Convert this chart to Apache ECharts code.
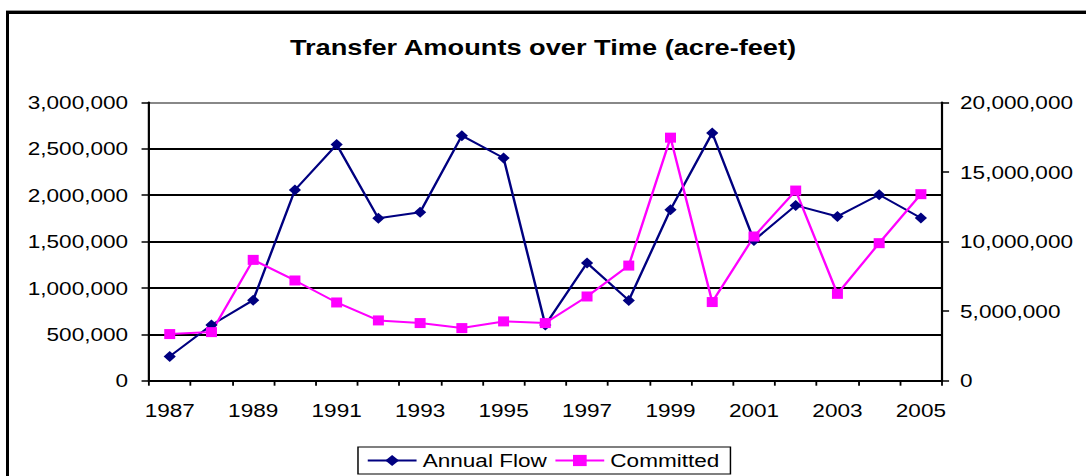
<!DOCTYPE html>
<html>
<head>
<meta charset="utf-8">
<script src="https://cdn.jsdelivr.net/npm/echarts@6/dist/echarts.min.js"></script>
<style>
html,body{margin:0;padding:0;background:#fff;overflow:hidden;}
#wrap{position:absolute;left:0;top:0;width:1086px;height:476px;overflow:hidden;background:#fff;}
#chart{position:absolute;left:0;top:0;width:890px;height:476px;transform:scaleX(1.22022);transform-origin:0 0;}
#frame{position:absolute;left:6px;top:11px;width:1200px;height:600px;border-top:3px solid #000;border-left:3px solid #000;box-sizing:border-box;box-shadow:0 -1px 0 #999;z-index:5;pointer-events:none;}
</style>
</head>
<body>
<div id="wrap">
  <div id="chart"></div>
  <div id="frame"></div>
</div>
<script>
// ---- data ----
const years = ['1987','1988','1989','1990','1991','1992','1993','1994','1995','1996',
               '1997','1998','1999','2000','2001','2002','2003','2004','2005'];
const annualFlow = [262000, 600000, 868000, 2055000, 2545000, 1750000, 1815000, 2640000, 2400000, 600000,
                    1268000, 865000, 1843000, 2669000, 1512000, 1889000, 1770000, 2004000, 1753000];
const committed = [3350000, 3490000, 8680000, 7200000, 5620000, 4330000, 4140000, 3780000, 4260000, 4140000,
                   6050000, 8270000, 17460000, 5650000, 10360000, 13660000, 6240000, 9880000, 13400000];
const leftTicks = [0, 500000, 1000000, 1500000, 2000000, 2500000, 3000000];
const rightTicks = [0, 5000000, 10000000, 15000000, 20000000];
const seriesNames = ['Annual Flow', 'Committed'];
const titleText = 'Transfer Amounts over Time (acre-feet)';

const FONT = 'Liberation Sans, Arial, sans-serif';
const fmt = v => Number(v).toLocaleString('en-US');

const chart = echarts.init(document.getElementById('chart'), null, {renderer: 'svg'});
chart.setOption({
  animation: false,
  backgroundColor: 'transparent',
  title: {
    text: titleText,
    left: 'center',
    top: 36,
    padding: 0,
    textStyle: {fontFamily: FONT, fontWeight: 'bold', fontSize: 22.3, color: '#000'}
  },
  grid: {left: 122, right: 118.2, top: 102.3, bottom: 95.3},
  legend: {
    data: seriesNames,
    left: 'center',
    bottom: 2,
    backgroundColor: '#fff',
    borderColor: '#000',
    borderWidth: 1.2,
    borderRadius: 0,
    padding: [4, 9, 4, 7],
    itemWidth: 40,
    itemHeight: 14,
    itemGap: 6,
    textStyle: {fontFamily: FONT, fontSize: 18.5, color: '#000'}
  },
  xAxis: {
    type: 'category',
    data: years,
    boundaryGap: true,
    axisLine: {show: true, lineStyle: {color: '#000', width: 2}},
    axisTick: {show: true, interval: 0, length: 5, lineStyle: {color: '#000', width: 1.5}},
    axisLabel: {interval: 1, margin: 20, fontFamily: FONT, fontSize: 18.5, color: '#000'},
    splitLine: {show: false}
  },
  yAxis: [{
    type: 'value',
    position: 'left',
    min: leftTicks[0],
    max: leftTicks[leftTicks.length - 1],
    interval: leftTicks[1] - leftTicks[0],
    axisLine: {show: true, lineStyle: {color: '#000', width: 1.8}},
    axisTick: {show: true, length: 6, lineStyle: {color: '#000', width: 1.5}},
    axisLabel: {margin: 17, fontFamily: FONT, fontSize: 18.5, color: '#000', formatter: fmt},
    splitLine: {show: true, lineStyle: {width: 2, color: ['#000','#000','#000','#000','#000','#000','#888']}}
  }, {
    type: 'value',
    position: 'right',
    min: rightTicks[0],
    max: rightTicks[rightTicks.length - 1],
    interval: rightTicks[1] - rightTicks[0],
    axisLine: {show: true, lineStyle: {color: '#000', width: 1.8}},
    axisTick: {show: true, length: 6, lineStyle: {color: '#000', width: 1.5}},
    axisLabel: {margin: 15, fontFamily: FONT, fontSize: 18.5, color: '#000', formatter: fmt},
    splitLine: {show: false}
  }],
  series: [{
    name: seriesNames[0],
    type: 'line',
    yAxisIndex: 0,
    data: annualFlow,
    symbol: 'diamond',
    symbolSize: [10, 11],
    lineStyle: {color: '#000080', width: 2},
    itemStyle: {color: '#000080'}
  }, {
    name: seriesNames[1],
    type: 'line',
    yAxisIndex: 1,
    data: committed,
    symbol: 'rect',
    symbolSize: [9, 10],
    lineStyle: {color: '#ff00ff', width: 2},
    itemStyle: {color: '#ff00ff'}
  }]
});
</script>
</body>
</html>
